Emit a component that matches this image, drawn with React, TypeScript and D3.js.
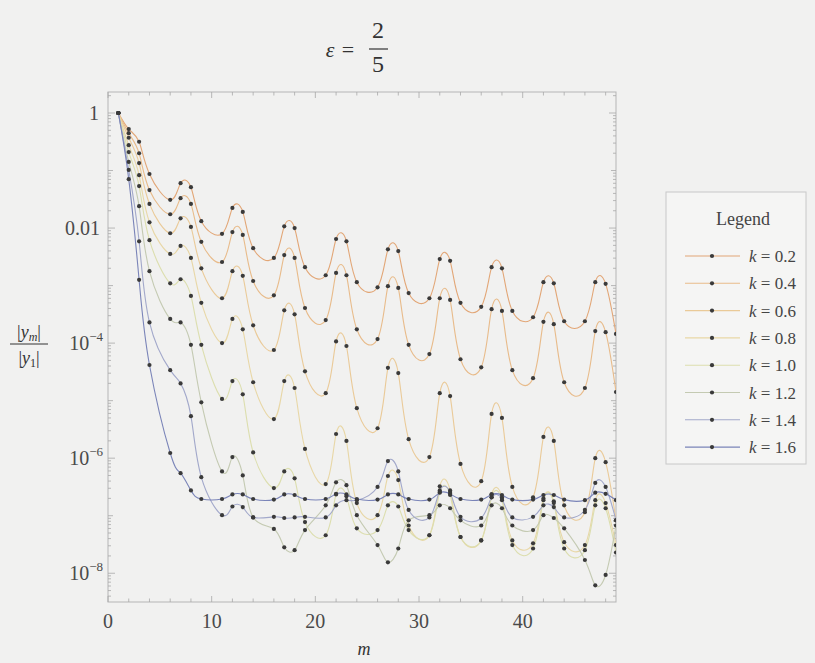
import React from "react";
import * as d3 from "d3";

// m indices that carry a point (multiples of 5 are absent in the reference)
const mValues = [1,2,3,4,6,7,8,9,11,12,13,14,16,17,18,19,21,22,23,24,26,27,28,29,31,32,33,34,36,37,38,39,41,42,43,44,46,47,48,49];

const kLabels = ["0.2","0.4","0.6","0.8","1.0","1.2","1.4","1.6"];

// log10(|y_m|/|y_1|)
const k02 = [0,-0.28,-0.50,-1.06,-1.51,-1.22,-1.29,-1.88,-2.10,-1.65,-1.72,-2.35,-2.52,-1.97,-2.00,-2.68,-2.82,-2.19,-2.23,-2.94,-3.03,-2.37,-2.40,-3.13,-3.22,-2.54,-2.57,-3.30,-3.37,-2.68,-2.70,-3.44,-3.55,-2.94,-2.96,-3.62,-3.62,-2.94,-2.97,-3.84];
const k04 = [0,-0.35,-0.70,-1.34,-1.76,-1.48,-1.58,-2.24,-2.59,-2.07,-2.12,-2.92,-3.17,-2.47,-2.52,-3.39,-3.60,-2.78,-2.82,-3.76,-3.93,-3.01,-3.04,-4.03,-4.19,-3.22,-3.25,-4.28,-4.42,-3.41,-3.44,-4.47,-4.61,-3.63,-3.67,-4.68,-4.78,-3.79,-3.81,-4.85];
const k06 = [0,-0.43,-0.87,-1.58,-2.09,-1.83,-1.98,-2.70,-3.22,-2.75,-2.83,-3.69,-4.12,-3.43,-3.50,-4.49,-4.87,-3.97,-4.05,-5.13,-5.48,-4.43,-4.52,-5.67,-5.98,-4.87,-4.92,-6.10,-6.40,-5.23,-5.30,-6.50,-6.68,-5.63,-5.70,-6.82,-6.94,-6.00,-6.07,-7.08];
const k08 = [0,-0.56,-1.08,-1.90,-2.45,-2.31,-2.52,-3.30,-4.00,-3.58,-3.76,-4.68,-5.32,-4.66,-4.78,-5.84,-6.45,-5.58,-5.70,-6.78,-6.99,-6.31,-6.38,-7.17,-7.34,-6.49,-6.56,-7.37,-7.43,-6.63,-6.68,-7.43,-7.48,-6.70,-6.75,-7.46,-7.51,-6.73,-6.78,-7.51];
const k10 = [0,-0.68,-1.27,-2.21,-2.96,-2.89,-3.18,-4.03,-4.97,-4.66,-4.89,-5.90,-6.52,-6.23,-6.35,-7.11,-7.34,-6.63,-6.66,-7.22,-7.25,-6.82,-6.84,-7.25,-7.34,-6.59,-6.64,-7.37,-7.43,-6.68,-6.73,-7.51,-7.57,-6.73,-6.78,-7.57,-7.60,-6.82,-6.87,-7.64];
const k12 = [0,-0.85,-1.62,-2.75,-3.58,-3.64,-4.03,-5.03,-6.23,-5.98,-6.30,-7.03,-7.23,-7.55,-7.60,-7.25,-6.82,-6.42,-6.47,-6.99,-7.51,-7.81,-7.57,-7.08,-6.99,-6.82,-6.87,-7.08,-7.17,-6.82,-6.87,-7.17,-7.25,-6.99,-7.04,-7.22,-7.77,-8.21,-8.03,-7.17];
const k14 = [0,-0.99,-2.23,-3.64,-4.47,-4.70,-5.27,-6.33,-6.99,-6.84,-6.85,-7.03,-7.02,-7.04,-7.03,-7.02,-7.03,-6.82,-6.73,-6.73,-6.50,-6.05,-6.23,-6.90,-7.03,-6.56,-6.59,-7.02,-7.04,-6.68,-6.71,-7.03,-7.02,-6.82,-6.85,-7.03,-6.90,-6.43,-6.50,-7.08];
const k16 = [0,-1.15,-2.90,-4.38,-5.91,-6.26,-6.56,-6.71,-6.71,-6.63,-6.63,-6.71,-6.72,-6.63,-6.64,-6.71,-6.71,-6.62,-6.63,-6.71,-6.72,-6.63,-6.63,-6.71,-6.72,-6.60,-6.62,-6.71,-6.72,-6.63,-6.64,-6.72,-6.72,-6.64,-6.64,-6.72,-6.73,-6.60,-6.62,-6.73];

const seriesLog = [k02,k04,k06,k08,k10,k12,k14,k16];
const seriesColors = ["#e2a676","#e8bb8a","#eaca98","#e8d7a6","#dcdeae","#c4cab2","#a2a8ca","#7a84b8"];

const xTicks = [0,10,20,30,40];
const yTickExps = [0,-2,-4,-6,-8];

const W = 815, H = 663;
const L = 108, R = 616, T = 92, B = 602;
const serif = "Liberation Serif, 'Times New Roman', Times, Tinos, 'Noto Serif', 'DejaVu Serif', serif";
const textCol = "#4a4a4a";

export default function App() {
  const x = d3.scaleLinear().domain([0, 49]).range([L, R]);
  const y = d3.scaleLog().domain([Math.pow(10, -8.5), Math.pow(10, 0.365)]).range([B, T]);
  const line = d3.line<[number, number]>()
    .x(d => x(d[0]))
    .y(d => y(d[1]))
    .curve(d3.curveNatural);

  const series = seriesLog.map(arr => mValues.map((m, i) => [m, Math.pow(10, arr[i])] as [number, number]));

  const xMinor: number[] = [];
  for (let v = 0; v <= 48; v += 2) if (v % 10 !== 0) xMinor.push(v);
  const yMinor: { v: number; len: number }[] = [];
  for (let e = -9; e <= 0; e++) {
    for (let j = 1; j <= 9; j++) {
      const v = j * Math.pow(10, e);
      const lv = Math.log10(v);
      if (lv < -8.5 || lv > 0.365) continue;
      if (j === 1 && e % 2 === 0) continue;
      yMinor.push({ v, len: j === 1 ? 5 : 3 });
    }
  }

  const legX = 666, legY = 192, legW = 140, legH = 272;
  const rowY = (i: number) => 256 + i * 27.3;

  return (
    <svg width={W} height={H} style={{ position: "absolute", left: 0, top: 0, fontFamily: serif }} xmlns="http://www.w3.org/2000/svg">
      <rect x={0} y={0} width={W} height={H} fill="#f1f1f0" />
      <defs>
        <clipPath id="plotclip">
          <rect x={L} y={T} width={R - L} height={B - T} />
        </clipPath>
      </defs>

      {/* title */}
      <g style={{ fontFamily: serif }} fill="#333">
        <text x={330} y={57} fontSize={22} fontStyle="italic" textAnchor="middle">ε</text>
        <text x={348} y={57} fontSize={22} textAnchor="middle">=</text>
        <text x={378} y={38} fontSize={24} textAnchor="middle">2</text>
        <line x1={369} x2={388} y1={49} y2={49} stroke="#333" strokeWidth={1.2} />
        <text x={378} y={72} fontSize={24} textAnchor="middle">5</text>
      </g>

      {/* frame */}
      <rect x={L} y={T} width={R - L} height={B - T} fill="none" stroke="#b5b5b5" strokeWidth={1} />

      {/* ticks */}
      <g stroke="#a8a8a8" strokeWidth={0.8}>
        {xTicks.map(t => (
          <g key={"xt" + t}>
            <line x1={x(t)} x2={x(t)} y1={B} y2={B - 6} />
            <line x1={x(t)} x2={x(t)} y1={T} y2={T + 6} />
          </g>
        ))}
        {xMinor.map(t => (
          <g key={"xm" + t}>
            <line x1={x(t)} x2={x(t)} y1={B} y2={B - 3.5} />
            <line x1={x(t)} x2={x(t)} y1={T} y2={T + 3.5} />
          </g>
        ))}
        {yTickExps.map(e => (
          <g key={"yt" + e}>
            <line x1={L} x2={L + 7} y1={y(Math.pow(10, e))} y2={y(Math.pow(10, e))} />
            <line x1={R} x2={R - 7} y1={y(Math.pow(10, e))} y2={y(Math.pow(10, e))} />
          </g>
        ))}
        {yMinor.map((t, i) => (
          <g key={"ym" + i}>
            <line x1={L} x2={L + t.len} y1={y(t.v)} y2={y(t.v)} />
            <line x1={R} x2={R - t.len} y1={y(t.v)} y2={y(t.v)} />
          </g>
        ))}
      </g>

      {/* x tick labels */}
      <g style={{ fontFamily: serif }} fontSize={20} fill={textCol} textAnchor="middle">
        {xTicks.map(t => (
          <text key={"xl" + t} x={x(t)} y={628}>{t}</text>
        ))}
      </g>

      {/* y tick labels */}
      <g style={{ fontFamily: serif }} fill={textCol} textAnchor="end">
        {yTickExps.map(e => {
          const yy = y(Math.pow(10, e)) + 7;
          if (e === 0) return <text key="yl0" x={99} y={yy} fontSize={20}>1</text>;
          if (e === -2) return <text key="yl2" x={100} y={yy} fontSize={20}>0.01</text>;
          return (
            <text key={"yl" + e} x={103} y={yy} fontSize={20}>
              10<tspan fontSize={13} dy={-9}>{"−" + (-e)}</tspan>
            </text>
          );
        })}
      </g>

      {/* axis labels */}
      <g style={{ fontFamily: serif }} fill="#333">
        <text x={29} y={338} fontSize={18} textAnchor="middle">
          |<tspan fontStyle="italic">y</tspan><tspan fontStyle="italic" fontSize={12} dy={3}>m</tspan><tspan dy={-3}>|</tspan>
        </text>
        <line x1={10} x2={48} y1={344} y2={344} stroke="#333" strokeWidth={1} />
        <text x={29} y={364} fontSize={18} textAnchor="middle">
          |<tspan fontStyle="italic">y</tspan><tspan fontSize={12} dy={3}>1</tspan><tspan dy={-3}>|</tspan>
        </text>
        <text x={364} y={655} fontSize={18} fontStyle="italic" textAnchor="middle">m</text>
      </g>

      {/* series */}
      <g clipPath="url(#plotclip)">
        {series.map((s, i) => (
          <path key={"ln" + i} d={line(s) || ""} fill="none" stroke={seriesColors[i]} strokeWidth={1.1} />
        ))}
        {series.map((s, i) => (
          <g key={"pt" + i} fill="#3a3a3a">
            {s.map((d, j) => (
              <circle key={j} cx={x(d[0])} cy={y(d[1])} r={2.1} />
            ))}
          </g>
        ))}
      </g>

      {/* legend */}
      <rect x={legX} y={legY} width={legW} height={legH} fill="#f5f5f4" stroke="#c8c8c8" strokeWidth={1} />
      <text x={743} y={225} style={{ fontFamily: serif }} fontSize={18} fill="#444" textAnchor="middle">Legend</text>
      {kLabels.map((k, i) => (
        <g key={"lg" + i}>
          <line x1={685} x2={740} y1={rowY(i)} y2={rowY(i)} stroke={seriesColors[i]} strokeWidth={1.1} />
          <circle cx={712} cy={rowY(i)} r={2.1} fill="#3a3a3a" />
          <text x={749} y={rowY(i) + 6} style={{ fontFamily: serif }} fontSize={17} fill="#444">
            <tspan fontStyle="italic">k</tspan> = {k}
          </text>
        </g>
      ))}
    </svg>
  );
}
